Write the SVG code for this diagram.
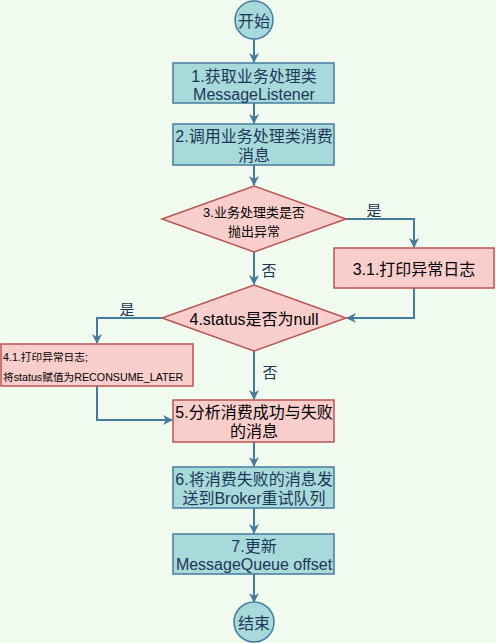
<svg xmlns="http://www.w3.org/2000/svg" width="496" height="643" viewBox="0 0 496 643">
<defs>
<marker id="ah" viewBox="0 0 10 10" refX="9" refY="5" markerWidth="5" markerHeight="5" orient="auto" markerUnits="strokeWidth">
<path d="M0,0 L10,5 L0,10 L3,5 Z" fill="#457b9d"/>
</marker>
<style>
.bg{fill:#f1faee}
.blue{fill:#a8dadc;stroke:#457b9d;stroke-width:1.5}
.red{fill:#f8cecc;stroke:#b85450;stroke-width:1.5}
.t{font-family:"Liberation Sans","Noto Sans CJK SC",sans-serif;fill:#1d3557;text-anchor:middle;dominant-baseline:central}
.tr{font-family:"Liberation Sans","Noto Sans CJK SC",sans-serif;fill:#000;text-anchor:middle;dominant-baseline:central}
.c{fill:none;stroke:#457b9d;stroke-width:2;marker-end:url(#ah)}
</style>
</defs>
<rect class="bg" x="0" y="0" width="496" height="643"/>
<g id="connectors">
<path class="c" d="M254,39 L254,62"/>
<path class="c" d="M254,103 L254,123"/>
<path class="c" d="M254,165 L254,185"/>
<path class="c" d="M346,219 L414,219 L414,247"/>
<path class="c" d="M254,252 L254,284"/>
<path class="c" d="M414,288 L414,318 L347,318"/>
<path class="c" d="M162,318 L97,318 L97,343"/>
<path class="c" d="M254,351 L254,399"/>
<path class="c" d="M97,386 L97,420 L172,420"/>
<path class="c" d="M254,442 L254,466"/>
<path class="c" d="M254,508 L254,533"/>
<path class="c" d="M254,574 L254,602"/>
<text class="t" x="374" y="210" font-size="15">是</text>
<text class="t" x="269" y="270" font-size="15">否</text>
<text class="t" x="127" y="309" font-size="15">是</text>
<text class="t" x="270" y="372" font-size="15">否</text>
</g>
<g id="start">
<circle class="blue" cx="254" cy="20" r="19"/>
<text class="t" x="254" y="21" font-size="16">开始</text>
</g>
<g id="n1">
<rect class="blue" x="173" y="63" width="161" height="40"/>
<text class="t" x="254" y="76" font-size="16">1.获取业务处理类</text>
<text class="t" x="254" y="94" font-size="16">MessageListener</text>
</g>
<g id="n2">
<rect class="blue" x="173" y="124" width="161" height="41"/>
<text class="t" x="254" y="136" font-size="16">2.调用业务处理类消费</text>
<text class="t" x="254" y="155" font-size="16">消息</text>
</g>
<g id="n3">
<polygon class="red" points="254,186 346,219 254,252 162,219"/>
<text class="tr" x="254" y="212" font-size="13">3.业务处理类是否</text>
<text class="tr" x="254" y="231" font-size="13">抛出异常</text>
</g>
<g id="n31">
<rect class="red" x="334" y="248" width="160" height="40"/>
<text class="tr" x="414" y="269" font-size="16">3.1.打印异常日志</text>
</g>
<g id="n4">
<polygon class="red" points="254,285 346,318 254,351 162,318"/>
<text class="tr" x="254" y="319" font-size="16">4.status是否为null</text>
</g>
<g id="n41">
<rect class="red" x="1" y="344" width="192" height="42"/>
<text class="tr" x="3" y="357" font-size="10.7" style="text-anchor:start">4.1.打印异常日志;</text>
<text class="tr" x="3" y="377" font-size="10.7" style="text-anchor:start">将status赋值为RECONSUME_LATER</text>
</g>
<g id="n5">
<rect class="red" x="173" y="400" width="161" height="42"/>
<text class="tr" x="254" y="412" font-size="16">5.分析消费成功与失败</text>
<text class="tr" x="254" y="431" font-size="16">的消息</text>
</g>
<g id="n6">
<rect class="blue" x="173" y="467" width="161" height="41"/>
<text class="t" x="254" y="479" font-size="16">6.将消费失败的消息发</text>
<text class="t" x="254" y="498" font-size="16">送到Broker重试队列</text>
</g>
<g id="n7">
<rect class="blue" x="173" y="534" width="161" height="40"/>
<text class="t" x="254" y="546" font-size="16">7.更新</text>
<text class="t" x="254" y="564" font-size="16">MessageQueue offset</text>
</g>
<g id="end">
<circle class="blue" cx="254" cy="622" r="20"/>
<text class="t" x="254" y="623" font-size="16">结束</text>
</g>
</svg>
